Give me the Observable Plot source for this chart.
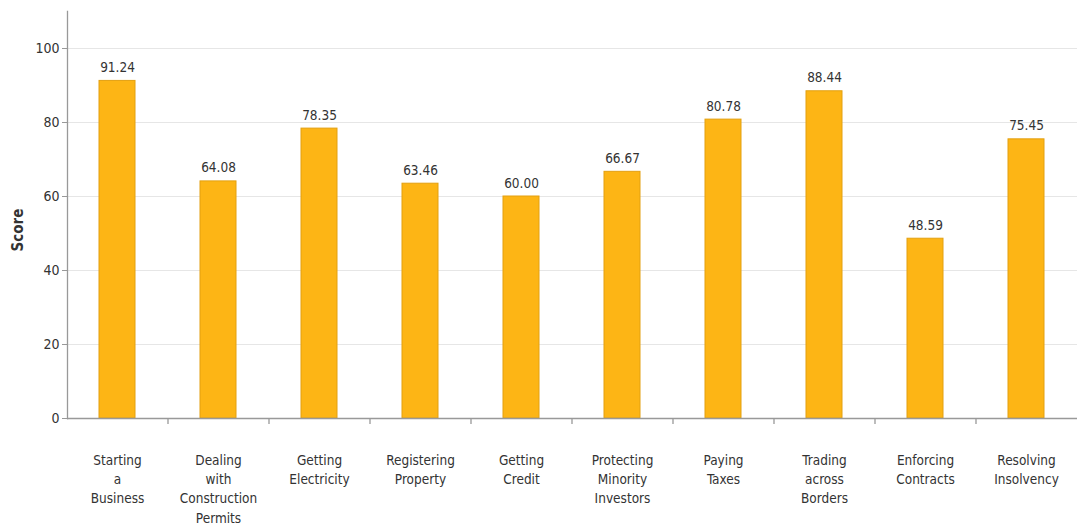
<!DOCTYPE html>
<html>
<head>
<meta charset="utf-8">
<script src="https://cdn.jsdelivr.net/npm/d3@7"></script>
<script src="https://cdn.jsdelivr.net/npm/@observablehq/plot@0.6"></script>
<style>
  html, body { margin: 0; padding: 0; background: #fff; }
  #chart svg { display: block; }
</style>
</head>
<body>
<div id="chart"></div>
<script>
const categories = [
  "Starting\na\nBusiness",
  "Dealing\nwith\nConstruction\nPermits",
  "Getting\nElectricity",
  "Registering\nProperty",
  "Getting\nCredit",
  "Protecting\nMinority\nInvestors",
  "Paying\nTaxes",
  "Trading\nacross\nBorders",
  "Enforcing\nContracts",
  "Resolving\nInsolvency"
];
const scores = [91.24, 64.08, 78.35, 63.46, 60.00, 66.67, 80.78, 88.44, 48.59, 75.45];
const yTicks = [0, 20, 40, 60, 80, 100];

const data = categories.map((c, i) => ({ cat: c, score: scores[i] }));
const W = 1077, H = 529;
const mL = 67, mR = 0;
const band = (W - mL - mR) / categories.length;
const font = "'DejaVu Sans Condensed', 'DejaVu Sans', sans-serif";

const chart = Plot.plot({
  width: W,
  height: H,
  marginLeft: mL,
  marginRight: mR,
  marginTop: 11,
  marginBottom: 111,
  style: { fontFamily: font, fontSize: "13px", color: "#333", background: "#fff", overflow: "visible" },
  x: { domain: categories, paddingInner: 0.64, paddingOuter: 0.32, align: 0.5, axis: null },
  y: { domain: [0, 110], axis: null },
  marks: [
    Plot.ruleY(yTicks.filter(d => d > 0), { stroke: "#e6e6e6", strokeWidth: 1.2 }),
    Plot.barY(data, { x: "cat", y: "score", fill: "#FDB515", stroke: "#E3A010", strokeWidth: 1 }),
    Plot.text(data, { x: "cat", y: "score", text: d => d.score.toFixed(2), dy: -9, lineAnchor: "bottom", fill: "#333", fontSize: 13.5 }),
    Plot.ruleY([0], { stroke: "#999", strokeWidth: 1.3 }),
    Plot.axisY({ ticks: yTicks, tickSize: 5, stroke: "#999", tickPadding: 3, fontSize: 14, fill: "#333", label: null }),
    Plot.frame({ anchor: "left", stroke: "#999", strokeWidth: 1.3 }),
    Plot.ruleX(categories.slice(1), { x: d => d, dx: -band / 2, y1: 0, y2: 0, insetBottom: -6, stroke: "#999", strokeWidth: 1.3 }),
    Plot.text(categories, { x: d => d, y: () => 0, text: d => d, dy: 33, lineAnchor: "top", lineHeight: 1.42, fontSize: 13.5, fill: "#333" })
  ]
});

// y-axis title
const svg = d3.select(chart);
svg.append("text")
  .attr("transform", `translate(18, 230) rotate(-90)`)
  .attr("text-anchor", "middle")
  .attr("dominant-baseline", "middle")
  .attr("font-family", font)
  .attr("font-size", 15)
  .attr("font-weight", "bold")
  .attr("fill", "#333")
  .text("Score");

document.getElementById("chart").appendChild(chart);
</script>
</body>
</html>
